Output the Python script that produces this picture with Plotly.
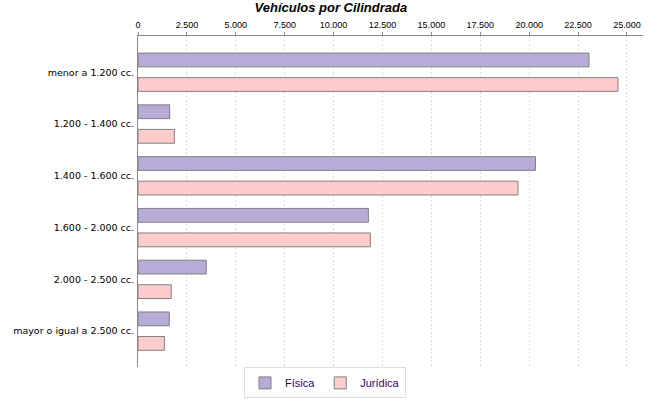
import plotly.graph_objects as go

categorias = ["menor a 1.200 cc.", "1.200 - 1.400 cc.", "1.400 - 1.600 cc.",
              "1.600 - 2.000 cc.", "2.000 - 2.500 cc.", "mayor o igual a 2.500 cc."]
fisica = [23060, 1620, 20320, 11780, 3490, 1600]
juridica = [24540, 1860, 19430, 11880, 1700, 1350]
ticks = [0, 2500, 5000, 7500, 10000, 12500, 15000, 17500, 20000, 22500, 25000]
tick_text = ["0", "2.500", "5.000", "7.500", "10.000", "12.500", "15.000",
             "17.500", "20.000", "22.500", "25.000"]

fig = go.Figure()
fig.add_trace(go.Bar(
    y=categorias, x=fisica, name="Física", orientation="h",
    width=0.266, offset=-0.37,
    marker=dict(color="#b7acd7", line=dict(color="#808080", width=1))))
fig.add_trace(go.Bar(
    y=categorias, x=juridica, name="Jurídica", orientation="h",
    width=0.266, offset=0.104,
    marker=dict(color="#ffcccc", line=dict(color="#808080", width=1))))

fig.update_layout(
    width=650, height=400,
    margin=dict(l=138, r=7, t=36, b=27),
    paper_bgcolor="white", plot_bgcolor="white",
    font=dict(family="DejaVu Sans, Verdana, sans-serif", size=9, color="#333333"),
    title=dict(text="<b><i>Vehículos por Cilindrada</i></b>",
               x=0.509, xref="container", y=0.993, yanchor="top",
               font=dict(family="Liberation Sans, Arial, sans-serif", size=13, color="black")),
    barmode="overlay",
    showlegend=True,
    legend=dict(orientation="h", xref="container", x=0.5, xanchor="center",
                yref="container", y=0.004, yanchor="bottom",
                bordercolor="#dddddd", borderwidth=1,
                font=dict(family="Liberation Sans, Arial, sans-serif", size=11, color="#330066"),
                itemwidth=30, entrywidth=0, tracegroupgap=0),
    xaxis=dict(side="top", range=[0, 25820], tickvals=ticks, ticktext=tick_text,
               automargin=False,
               showline=True, linecolor="#888888", linewidth=1,
               ticks="outside", ticklen=3, tickcolor="#888888",
               showgrid=True, gridcolor="#dcdcdc", griddash="2px,2px", gridwidth=1,
               zeroline=False,
               tickfont=dict(family="Liberation Sans, sans-serif", size=9, color="black")),
    yaxis=dict(type="category", range=[5.7, -0.7], showline=True, linecolor="#888888",
               automargin=False,
               linewidth=1, showgrid=False, ticks="", ticklabelstandoff=1,
               tickfont=dict(family="DejaVu Sans, sans-serif", size=9.5, color="black")),
)

# the page body has a default 8px margin, drop it so the chart sits at 0,0
fig.write_html("out.html", config={"displayModeBar": False},
               post_script="document.body.style.margin = '0';")
